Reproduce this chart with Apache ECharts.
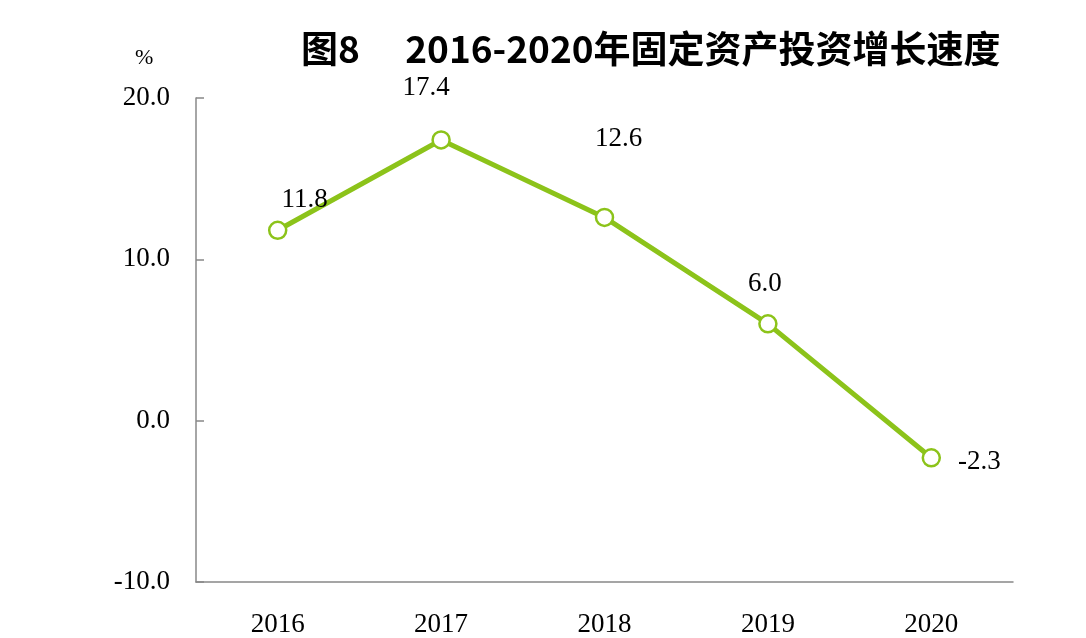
<!DOCTYPE html>
<html>
<head>
<meta charset="utf-8">
<script src="https://cdn.jsdelivr.net/npm/echarts@6/dist/echarts.min.js"></script>
<style>
  html, body { margin: 0; padding: 0; background: #fff; }
  #main { width: 1086px; height: 638px; }
</style>
</head>
<body>
<div id="main"></div>
<script>
// data
var years = ["2016", "2017", "2018", "2019", "2020"];
var growth = [11.8, 17.4, 12.6, 6.0, -2.3];
var yTicks = [-10, 0, 10, 20];

// where each value label sits relative to its point
var labelPos = [
  {position: "top", offset: [27, -2]},
  {position: "top", offset: [-15, -24]},
  {position: "top", offset: [14, -50]},
  {position: "top", offset: [-3, -12]},
  {position: "right", offset: [12, 4]}
];

var serif = "'Liberation Serif', 'DejaVu Serif', serif";
var green = "#8CC31A";

var chart = echarts.init(document.getElementById("main"));
var option = {
  backgroundColor: "#fff",
  animation: false,
  title: {
    text: "图8　 2016-2020年固定资产投资增长速度",
    left: 296, top: 25,
    textStyle: {fontFamily: "'Noto Sans CJK SC', sans-serif", fontWeight: "bold", fontSize: 37, color: "#000"}
  },
  graphic: [{
    type: "text", left: 135, top: 47,
    style: {text: "%", fontFamily: serif, fontSize: 22, fill: "#000"}
  }],
  grid: {left: 196, right: 73, top: 98, bottom: 54},
  xAxis: {
    type: "category",
    data: years,
    boundaryGap: true,
    axisLine: {onZero: false, lineStyle: {color: "#888", width: 1.5}},
    axisTick: {inside: true, length: 9, lineStyle: {color: "#888", width: 1.5}},
    axisLabel: {margin: 29, fontFamily: serif, fontSize: 27, color: "#000"},
    splitLine: {show: false}
  },
  yAxis: {
    type: "value",
    min: yTicks[0], max: yTicks[yTicks.length - 1], interval: 10,
    axisLine: {show: true, lineStyle: {color: "#888", width: 1.5}},
    axisTick: {show: true, inside: true, length: 8, lineStyle: {color: "#888", width: 1.5}},
    axisLabel: {
      margin: 26, fontFamily: serif, fontSize: 27, color: "#000",
      formatter: function (v) { return v.toFixed(1); }
    },
    splitLine: {show: false}
  },
  series: [{
    type: "line",
    data: growth.map(function (v, i) {
      return {value: v, label: labelPos[i]};
    }),
    lineStyle: {color: green, width: 5},
    symbol: "circle",
    symbolSize: 17,
    itemStyle: {color: "#fff", borderColor: green, borderWidth: 2.5},
    label: {
      show: true, fontFamily: serif, fontSize: 27, color: "#000",
      formatter: function (p) { return p.value.toFixed(1); }
    }
  }]
};
chart.setOption(option);
</script>
</body>
</html>
